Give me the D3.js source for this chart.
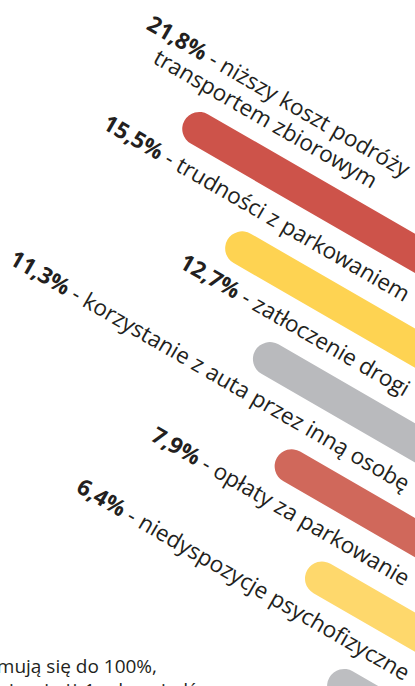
<!DOCTYPE html>
<html>
<head>
<meta charset="utf-8">
<script src="https://cdn.jsdelivr.net/npm/d3@7"></script>
<style>
  html, body { margin: 0; padding: 0; background: #fff; overflow: hidden; }
  svg { display: block; }
  text { font-family: "Open Sans", sans-serif; fill: #231f20; }
</style>
</head>
<body>
<svg id="chart" width="415" height="686"></svg>
<script>
// data
const categories = [
  "niższy koszt podróży\ntransportem zbiorowym",
  "trudności z parkowaniem",
  "zatłoczenie drogi",
  "korzystanie z auta przez inną osobę",
  "opłaty za parkowanie",
  "niedyspozycje psychofizyczne"
];
const values = [21.8, 15.5, 12.7, 11.3, 7.9, 6.4];
const noteLines = [
  "Odpowiedzi nie sumują się do 100%,",
  "ponieważ można było wskazać więcej niż 1 odpowiedź"
];

const barColors = ["#cd534a", "#fed352", "#b9babd", "#d0685b", "#fed86c", "#bdbec1"];

const W = 415, H = 686;
const angle = 30, rad = angle * Math.PI / 180;
const barWidth = 34;
const pl = d3.formatLocale({ decimal: ",", thousands: " ", grouping: [3], currency: ["", " zł"] });
const fmt = v => pl.format(".1f")(v) + "%";

const svg = d3.select("#chart");
const plot = svg.append("g").attr("transform", `rotate(${angle})`);

// rows run down the tilted frame, bars run along it
const rowScale = d3.scalePoint().domain(categories).range([12, 422]);
const endScale = d3.scaleLinear().domain([0, categories.length - 1]).range([746, 1073]);
const lengthScale = d3.scaleLinear().domain([0, 25]).range([400, 525]);

plot.selectAll("line.bar")
  .data(values)
  .join("line")
  .attr("class", "bar")
  .attr("x1", (d, i) => endScale(i) - lengthScale(d))
  .attr("x2", (d, i) => endScale(i))
  .attr("y1", (d, i) => rowScale(categories[i]))
  .attr("y2", (d, i) => rowScale(categories[i]))
  .attr("stroke", (d, i) => barColors[i])
  .attr("stroke-width", barWidth)
  .attr("stroke-linecap", "round");

// labels sit above each bar, their right end lines up with the page edge
const rightEdge = 404;
const lineGap = 26;
categories.forEach((c, i) => {
  const lines = c.split("\n");
  const base = rowScale(c) - 34;
  const g = plot.append("g");
  const texts = lines.map((l, j) => {
    const t = g.append("text")
      .attr("y", base - (lines.length - 1 - j) * lineGap)
      .attr("font-size", 22.5);
    if (j == 0) {
      t.append("tspan").attr("font-weight", 700).text(fmt(values[i]));
      t.append("tspan").text(" - " + l);
    } else {
      t.text(l);
    }
    return t;
  });
  let widest = 0, wi = 0;
  texts.forEach((t, j) => {
    let w = t.node().getComputedTextLength();
    if (w > widest) { widest = w; wi = j; }
  });
  const n = base - (lines.length - 1 - wi) * lineGap;
  const uEnd = (rightEdge + n * Math.sin(rad)) / Math.cos(rad);
  texts.forEach(t => t.attr("x", uEnd - widest / 2).attr("text-anchor", "middle"));
});

svg.append("g").selectAll("text")
  .data(noteLines)
  .join("text")
  .attr("x", (d, i) => i == 0 ? 157 : 197)
  .attr("y", (d, i) => 673 + i * 24)
  .attr("text-anchor", "end")
  .attr("font-size", 19)
  .text(d => d);
</script>
</body>
</html>
